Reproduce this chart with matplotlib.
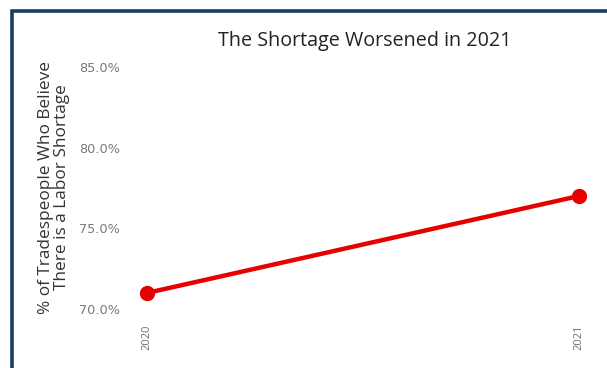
import matplotlib.pyplot as plt
import matplotlib.ticker as ticker
from matplotlib.patches import Rectangle

years = ["2020", "2021"]
shortagePct = [71.0, 77.0]
yTicks = [70, 75, 80, 85]

plt.rcParams['font.family'] = ['Open Sans', 'DejaVu Sans']

fig = plt.figure(figsize=(6.07, 3.68), dpi=100)
W, H = 607, 368

# navy frame around the panel, running off the right and bottom edges
fig.patches.append(Rectangle((12.5 / W, -0.2), 1.2, 1.2 - 11 / H,
                             transform=fig.transFigure, fill=False,
                             edgecolor='#1d3c63', linewidth=2.6))

ax = fig.add_axes([130 / W, 1 - 315 / H, 466 / W, 255 / H])
xPos = list(range(len(years)))
ax.plot(xPos, shortagePct, color='#e60000', linewidth=3.2,
        marker='o', markersize=10, solid_capstyle='round')

ax.set_xlim(-0.04, 1.04)
ax.set_ylim(69.63, 85.43)
ax.set_xticks(xPos)
ax.set_xticklabels(years, rotation=90, fontsize=8, color='#6e6e6e')
ax.set_yticks(yTicks)
ax.yaxis.set_major_formatter(ticker.FuncFormatter(lambda v, pos: '{:.1f}%'.format(v)))
ax.tick_params(axis='y', length=0, pad=7, labelcolor='#7a7a7a')
for lbl in ax.get_yticklabels():
    lbl.set_family('DejaVu Sans')
    lbl.set_fontsize(9.3)
ax.tick_params(axis='x', length=0, pad=7)
for s in ax.spines.values():
    s.set_visible(False)

ax.set_ylabel("% of Tradespeople Who Believe\nThere is a Labor Shortage",
              fontsize=12.4, color='#333333', linespacing=1.0)
ax.yaxis.set_label_coords(-60 / 466, 0.5)

fig.text(365 / W, 1 - 41 / H, "The Shortage Worsened in 2021", ha='center',
         va='center', fontsize=14.2, color='#222222')

fig.savefig("out.png", dpi=100)
